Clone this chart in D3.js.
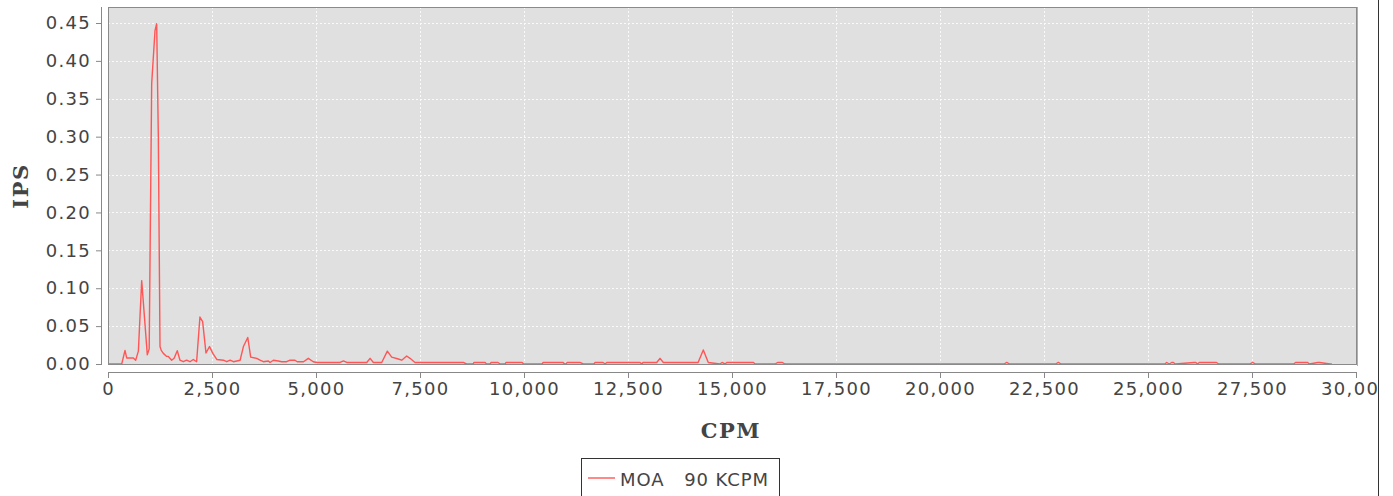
<!DOCTYPE html>
<html>
<head>
<meta charset="utf-8">
<script src="https://cdn.jsdelivr.net/npm/d3@7"></script>
<style>
  body { margin: 0; background: #fff; }
  svg { display: block; }
</style>
</head>
<body>
<div id="my_dataviz"></div>
<script>
// ---- data (CPM, IPS)
var cpm = [0, 330, 409, 449, 609, 665, 730, 810, 945, 990, 1050, 1130, 1170, 1210, 1250,
  1280, 1330, 1410, 1450, 1530, 1590, 1665, 1730, 1810, 1890, 1970, 2050, 2130, 2210,
  2275, 2355, 2440, 2520, 2615, 2775, 2855, 2935, 3015, 3175, 3255, 3360, 3430, 3575,
  3655, 3735, 3855, 3895, 3975, 4095, 4175, 4295, 4375, 4495, 4550, 4700, 4815, 4935,
  5015, 5580, 5660, 5740, 6220, 6300, 6380, 6580, 6715, 6820, 6980, 7060, 7180, 7260,
  7380, 8540, 8620, 8775, 8800, 9065, 9100, 9185, 9210, 9375, 9425, 9545, 9570, 9955,
  9990, 10435, 10460, 10940, 10975, 11010, 11040, 11345, 11425, 11680, 11710, 11900,
  11950, 11990, 12790, 12830, 12860, 13190, 13270, 13350, 14185, 14310, 14430, 14710,
  14760, 14835, 14875, 15515, 15555, 16035, 16105, 16205, 16275, 21540, 21605, 21670,
  22780, 22845, 22910, 25400, 25450, 25510, 25570, 25610, 25655, 26108, 26150, 26190,
  26233, 26646, 26700, 27450, 27515, 27580, 28500, 28548, 28837, 28880, 29080, 29125,
  29374, 29420, 30000];
var ips = [0, 0, 0.018, 0.008, 0.008, 0.005, 0.017, 0.11, 0.012, 0.02, 0.37, 0.44, 0.449,
  0.30, 0.023, 0.018, 0.014, 0.010, 0.010, 0.005, 0.0075, 0.0176, 0.005, 0.003, 0.005,
  0.003, 0.006, 0.003, 0.062, 0.056, 0.0145, 0.023, 0.014, 0.006, 0.005, 0.003, 0.005,
  0.003, 0.005, 0.023, 0.035, 0.009, 0.0075, 0.005, 0.003, 0.004, 0.002, 0.005, 0.004,
  0.003, 0.003, 0.005, 0.005, 0.003, 0.003, 0.0075, 0.003, 0.002, 0.002, 0.004, 0.002,
  0.002, 0.0075, 0.002, 0.002, 0.017, 0.009, 0.0066, 0.005, 0.0105, 0.0075, 0.002, 0.002,
  0, 0, 0.002, 0.002, 0, 0, 0.002, 0.002, 0, 0, 0.002, 0.002, 0, 0, 0.002, 0.002, 0, 0,
  0.002, 0.002, 0, 0, 0.002, 0.002, 0, 0.002, 0.002, 0, 0.002, 0.002, 0.0075, 0.002,
  0.002, 0.0185, 0.002, 0, 0.002, 0, 0.002, 0.002, 0, 0, 0.002, 0.002, 0, 0, 0.002, 0,
  0, 0.002, 0, 0, 0.002, 0, 0.002, 0.002, 0, 0.002, 0.002, 0, 0.002, 0.002, 0, 0, 0.002,
  0, 0, 0.002, 0.002, 0, 0.002, 0.002, 0, 0];
var xTicks = d3.range(0, 30001, 2500);
var yTicks = d3.range(0, 0.451, 0.05);
var seriesName = "MOA   90 KCPM";

// ---- plot area
var W = 1393, H = 496;
var plot = {left: 108, right: 1357, top: 7, bottom: 365};

var svg = d3.select("div#my_dataviz")
    .append("svg")
      .attr("width", W)
      .attr("height", H);

const xScale = d3.scaleLinear()
    .domain([0, 30000])
    .range([plot.left, plot.right - 1]);

const yScale = d3.scaleLinear()
    .domain([0, 0.45])
    .range([364, 23]);

var tickFont = "'DejaVu Sans', sans-serif";

// background
svg.append("rect")
    .attr("x", plot.left).attr("y", plot.top)
    .attr("width", plot.right - plot.left).attr("height", plot.bottom - plot.top)
    .attr("fill", "#e0e0e0");

// grid lines
svg.append("g").selectAll("line").data(xTicks.slice(1))
  .join("line")
    .attr("x1", d => Math.round(xScale(d)) + 0.5).attr("x2", d => Math.round(xScale(d)) + 0.5)
    .attr("y1", plot.top).attr("y2", plot.bottom)
    .attr("stroke", "#fafafa").attr("stroke-dasharray", "2,2");
svg.append("g").selectAll("line").data(yTicks.slice(1))
  .join("line")
    .attr("x1", plot.left).attr("x2", plot.right)
    .attr("y1", d => Math.round(yScale(d)) + 0.5).attr("y2", d => Math.round(yScale(d)) + 0.5)
    .attr("stroke", "#fafafa").attr("stroke-dasharray", "2,2");

// series line
var pts = cpm.map((c, i) => ({x: c, y: ips[i]}));
const line = d3.line()
    .x(d => xScale(d.x))
    .y(d => yScale(d.y));

svg.append("path")
    .datum(pts)
    .attr("d", line)
    .attr("fill", "none")
    .attr("stroke", "#ff5555")
    .attr("stroke-width", 1.4)
    .attr("stroke-linejoin", "round");

// plot outline
svg.append("rect")
    .attr("x", plot.left + 0.5).attr("y", plot.top + 0.5)
    .attr("width", plot.right - plot.left - 1).attr("height", plot.bottom - plot.top - 1)
    .attr("fill", "none").attr("stroke", "#8a8a8a");
svg.append("line")
    .attr("x1", plot.right + 0.5).attr("x2", plot.right + 0.5)
    .attr("y1", plot.top).attr("y2", plot.bottom + 1)
    .attr("stroke", "#b0b0b0");

// y axis
var yAxis = svg.append("g")
    .attr("transform", "translate(101,0)")
    .call(d3.axisLeft(yScale).tickValues(yTicks).tickFormat(d3.format(".2f")).tickSize(5).tickPadding(5));
yAxis.select(".domain").attr("d", "M0.5," + plot.top + "V" + plot.bottom).attr("stroke", "#888");
yAxis.selectAll(".tick line").attr("stroke", "#888");
yAxis.selectAll(".tick text")
    .attr("fill", "#444")
    .style("font-family", tickFont).style("font-size", "18px").style("letter-spacing", "1.3px");

// x axis
var xAxis = svg.append("g")
    .attr("transform", "translate(0,372)")
    .call(d3.axisBottom(xScale).tickValues(xTicks).tickFormat(d3.format(",")).tickSize(6).tickPadding(4));
xAxis.select(".domain").attr("d", "M" + plot.left + ",0.5H" + plot.right).attr("stroke", "#888");
xAxis.selectAll(".tick line").attr("stroke", "#888");
xAxis.selectAll(".tick text")
    .attr("fill", "#444")
    .style("font-family", tickFont).style("font-size", "18px").style("letter-spacing", "1.3px");

// axis titles
svg.append("text")
    .attr("transform", "translate(28,186) rotate(-90)")
    .attr("text-anchor", "middle")
    .attr("fill", "#444")
    .style("font-family", "'DejaVu Serif', serif").style("font-size", "21px").style("font-weight", "bold")
    .style("letter-spacing", "1.5px")
    .text("IPS");
svg.append("text")
    .attr("x", 731).attr("y", 438)
    .attr("text-anchor", "middle")
    .attr("fill", "#444")
    .style("font-family", "'DejaVu Serif', serif").style("font-size", "21px").style("font-weight", "bold")
    .style("letter-spacing", "1.5px")
    .text("CPM");

// legend
var legend = svg.append("g");
legend.append("rect")
    .attr("x", 581.5).attr("y", 458.5).attr("width", 198).attr("height", 50)
    .attr("fill", "#fff").attr("stroke", "#333");
legend.append("line")
    .attr("x1", 588).attr("x2", 615).attr("y1", 478).attr("y2", 478)
    .attr("stroke", "#ff5555").attr("stroke-width", 1.4);
legend.append("text")
    .attr("x", 620).attr("y", 486)
    .attr("fill", "#444")
    .style("font-family", tickFont).style("font-size", "18px").style("letter-spacing", "0.9px")
    .attr("xml:space", "preserve")
    .text(seriesName);

// outer frame edge on the right, with nothing drawn beyond it
svg.append("rect")
    .attr("x", 1379).attr("y", 0).attr("width", W - 1379).attr("height", H)
    .attr("fill", "#fff");
svg.append("line")
    .attr("x1", 1378.5).attr("x2", 1378.5).attr("y1", 0).attr("y2", H)
    .attr("stroke", "#333");
</script>
</body>
</html>
